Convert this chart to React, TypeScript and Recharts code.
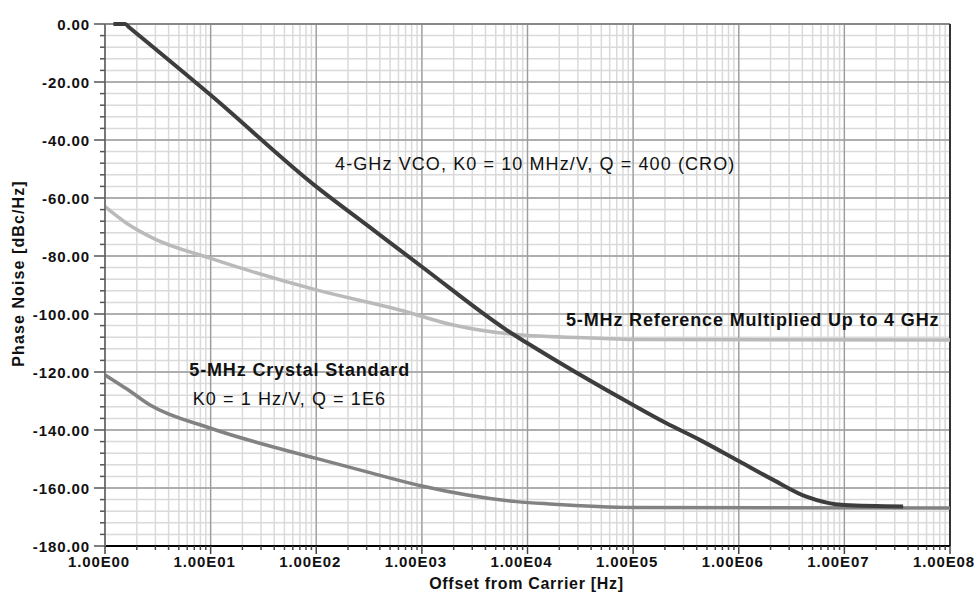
import { LineChart, Line, XAxis, YAxis, CartesianGrid, ReferenceLine, ReferenceDot } from 'recharts';

// --- data (offset in Hz, phase noise in dBc/Hz) ---
const vcoFreq = [1.2, 1.55, 1.7, 10, 100, 316, 1000, 7300, 10000, 1e5, 2.07e5, 4.27e5, 1.02e6, 2.12e6, 4.37e6, 1e7, 3.6e7];
const vcoNoise = [0, 0, -1.2, -24.5, -56.1, -69.9, -83.7, -107.0, -110.1, -131.4, -137.7, -143.4, -150.9, -157.2, -163.0, -165.9, -166.4];

const refFreq = [1, 1.6, 2.87, 10, 100, 617, 1980, 7300, 48400, 1e5, 1e8];
const refNoise = [-63.0, -68.7, -73.9, -80.8, -91.7, -98.6, -103.8, -107.0, -108.4, -108.8, -109.0];

const xtalFreq = [1, 1.6, 2.67, 10, 100, 322, 1000, 7890, 16200, 1e5, 1e8];
const xtalNoise = [-121.0, -125.8, -131.4, -139.4, -149.8, -154.7, -159.3, -164.7, -165.5, -166.7, -166.9];

const xMajorTicks = [1, 10, 100, 1e3, 1e4, 1e5, 1e6, 1e7, 1e8];
const xTickLabels = ['1.00E00', '1.00E01', '1.00E02', '1.00E03', '1.00E04', '1.00E05', '1.00E06', '1.00E07', '1.00E08'];
const xMinorSteps = [2, 3, 4, 5, 6, 7, 8, 9];

const yMajorTicks = [0, -20, -40, -60, -80, -100, -120, -140, -160, -180];
const yTickLabels = ['0.00', '-20.00', '-40.00', '-60.00', '-80.00', '-100.00', '-120.00', '-140.00', '-160.00', '-180.00'];
const yMinorStep = 4;

const annotations = [
  { text: '4-GHz VCO, K0 = 10 MHz/V, Q = 400 (CRO)', f: 150.6, v: -48.0, bold: false },
  { text: '5-MHz Reference Multiplied Up to 4 GHz', f: 23150, v: -102.1, bold: true },
  { text: '5-MHz Crystal Standard', f: 6.28, v: -119.3, bold: true },
  { text: 'K0 = 1 Hz/V, Q = 1E6', f: 6.77, v: -129.1, bold: false },
];

const toRows = (fs: number[], vs: number[]) => fs.map((f, i) => ({ f, v: vs[i] }));
const vcoData = toRows(vcoFreq, vcoNoise);
const refData = toRows(refFreq, refNoise);
const xtalData = toRows(xtalFreq, xtalNoise);

const xTicks = [
  ...xMajorTicks,
  ...xMajorTicks.slice(0, -1).flatMap((d) => xMinorSteps.map((s) => d * s)),
].sort((a, b) => a - b);
const yTicks: number[] = [];
for (let v = 0; v >= -180; v -= yMinorStep) yTicks.push(v);

const FONT = '"Liberation Sans", Arial, sans-serif';

const XTick = (props: any) => {
  const { x, y, payload } = props;
  const idx = xMajorTicks.findIndex((m) => Math.abs(m - payload.value) / m < 1e-9);
  const major = idx >= 0;
  return (
    <g>
      <line x1={x} x2={x} y1={y} y2={y + (major ? 8 : 4)} stroke="#444" strokeWidth={1.5} />
      {major && (
        <text x={x - 6} y={y + 21} textAnchor="middle" fontFamily={FONT} fontWeight="bold" fontSize={15} letterSpacing={0.9} fill="#111">
          {xTickLabels[idx]}
        </text>
      )}
    </g>
  );
};

const YTick = (props: any) => {
  const { x, y, payload } = props;
  const idx = yMajorTicks.indexOf(payload.value);
  const major = idx >= 0;
  return (
    <g>
      <line x1={x - (major ? 11 : 5)} x2={x} y1={y} y2={y} stroke="#555" strokeWidth={1.5} />
      {major && (
        <text x={x - 15} y={y + 5.5} textAnchor="end" fontFamily={FONT} fontWeight="bold" fontSize={15} letterSpacing={0.9} fill="#111">
          {yTickLabels[idx]}
        </text>
      )}
    </g>
  );
};

export default function App() {
  return (
    <div style={{ position: 'fixed', left: 0, top: 0, width: 977, height: 593, background: '#fff' }}>
      <LineChart width={977} height={593} margin={{ top: 24, right: 27, left: 0, bottom: 0 }}>
        <CartesianGrid stroke="#dadada" strokeWidth={1.5} />
        {xMajorTicks.slice(1, -1).map((d) => (
          <ReferenceLine key={'vx' + d} x={d} stroke="#9c9c9c" strokeWidth={1.3} ifOverflow="visible" />
        ))}
        {yMajorTicks.slice(1, -1).map((v) => (
          <ReferenceLine key={'hy' + v} y={v} stroke="#9c9c9c" strokeWidth={1.3} ifOverflow="visible" />
        ))}
        <ReferenceLine y={0} stroke="#888" strokeWidth={2} ifOverflow="visible" />
        <ReferenceLine x={1e8} stroke="#333" strokeWidth={2} ifOverflow="visible" />
        <XAxis
          type="number"
          dataKey="f"
          scale="log"
          domain={[1, 1e8]}
          ticks={xTicks}
          interval={0}
          height={47}
          tickSize={0}
          tickMargin={0}
          tickLine={false}
          axisLine={{ stroke: '#000', strokeWidth: 2 }}
          tick={<XTick />}
          label={(p: any) => {
            const vb = p.viewBox;
            return (
              <text x={vb.x + vb.width / 2 - 1} y={588.7} textAnchor="middle" fontFamily={FONT} fontWeight="bold" fontSize={16} letterSpacing={0.7} fill="#111">
                Offset from Carrier [Hz]
              </text>
            );
          }}
        />
        <YAxis
          type="number"
          domain={[-180, 0]}
          ticks={yTicks}
          interval={0}
          width={105}
          tickSize={0}
          tickMargin={0}
          tickLine={false}
          axisLine={{ stroke: '#777', strokeWidth: 2 }}
          tick={<YTick />}
          label={() => (
            <text x={23.5} y={273.5} transform="rotate(-90 23.5 273.5)" textAnchor="middle" fontFamily={FONT} fontWeight="bold" fontSize={16} letterSpacing={1.1} fill="#111">
              Phase Noise [dBc/Hz]
            </text>
          )}
        />
        <Line data={refData} dataKey="v" type="monotone" stroke="#bababa" strokeWidth={3.5} dot={false} isAnimationActive={false} />
        <Line data={xtalData} dataKey="v" type="monotone" stroke="#828282" strokeWidth={3.5} dot={false} isAnimationActive={false} />
        <Line data={vcoData} dataKey="v" type="monotone" stroke="#3d3d3d" strokeWidth={4} dot={false} isAnimationActive={false} />
        {annotations.map((a) => (
          <ReferenceDot
            key={a.text}
            x={a.f}
            y={a.v}
            r={0}
            fill="none"
            stroke="none"
            ifOverflow="visible"
            label={(p: any) => (
              <text x={p.viewBox.x} y={p.viewBox.y + 6.4} fontFamily={FONT} fontWeight={a.bold ? 'bold' : 'normal'} fontSize={18} letterSpacing={a.bold ? 0.85 : 1.1} fill="#111">
                {a.text}
              </text>
            )}
          />
        ))}
      </LineChart>
    </div>
  );
}
